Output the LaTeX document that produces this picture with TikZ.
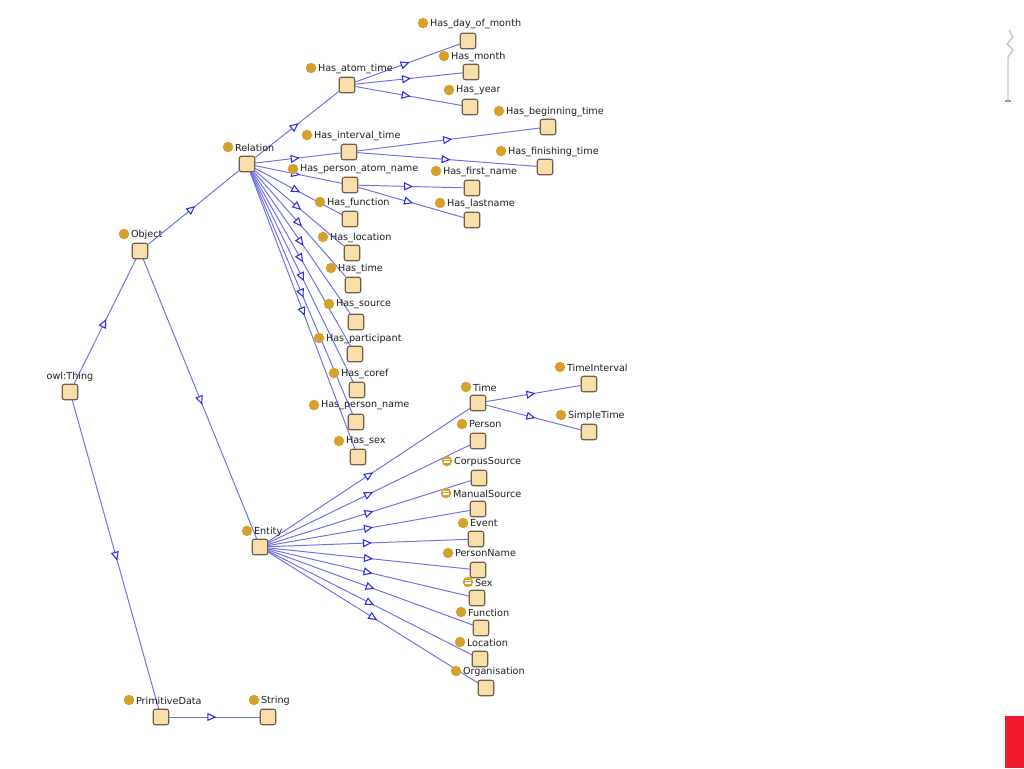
\documentclass[tikz,border=0pt]{standalone}
\usepackage{fontspec}
\setmainfont{DejaVu Sans}
\usetikzlibrary{arrows.meta,decorations.markings}
\definecolor{edgeblue}{HTML}{6E6EEA}
\definecolor{arrowblue}{HTML}{2A2AE8}
\definecolor{boxfill}{HTML}{F7DEAA}
\definecolor{boxdraw}{HTML}{6E5E46}
\definecolor{dotfill}{HTML}{D6A02C}
\definecolor{txt}{HTML}{1E1E1E}
\pgfdeclarelayer{bg}
\pgfsetlayers{bg,main}
\tikzset{
  clsbox/.style={draw=boxdraw, fill=boxfill, line width=0.6pt, rounded corners=1.2pt,
    minimum width=0.31cm, minimum height=0.31cm, inner sep=0pt},
  clsdot/.style={circle, fill=dotfill, minimum size=0.21cm, inner sep=0pt},
  eqdot/.style={circle, fill=dotfill, minimum size=0.21cm, inner sep=0pt,
    path picture={\draw[white, line width=0.5pt]
      ([xshift=-1.6pt,yshift=1pt]path picture bounding box.center) -- ++(3.2pt,0)
      ([xshift=-1.6pt,yshift=0pt]path picture bounding box.center) -- ++(3.2pt,0)
      ([xshift=-1.6pt,yshift=-1pt]path picture bounding box.center) -- ++(3.2pt,0);}},
  lbl/.style={anchor=west, inner sep=0pt, text=txt,
    font=\fontsize{5.5}{6}\selectfont},
  isa/.style={draw=edgeblue, line width=0.55pt, postaction={decorate},
    decoration={markings, mark=at position 0.52 with
      {\arrow{Triangle[length=1.8mm, width=1.6mm, color=arrowblue, fill=white, line width=0.6pt]}}}}
}
\newcommand{\ocls}[5]{%
  \node[clsbox] (#1) at (#2) {};
  \node[#5] (#1-d) at (#3) {};
  \node[lbl] (#1-t) at ([xshift=0.6pt,yshift=-0.3pt]#1-d.east) {#4};
}
\begin{document}
\begin{tikzpicture}[x=0.02cm, y=-0.02cm]
\useasboundingbox (0,0) rectangle (1024,768);
% owl:Thing
\node[clsbox] (thing) at (70,392) {};
\node[lbl, anchor=center] (thing-t) at (70,377) {owl:Thing};
\ocls{object}{140,251}{124,234}{Object}{clsdot}
\ocls{relation}{247,164}{228,147}{Relation}{clsdot}
\ocls{entity}{260,547}{247,531}{Entity}{clsdot}
\ocls{primdata}{161,717}{129,700}{PrimitiveData}{clsdot}
\ocls{string}{268,717}{254,700}{String}{clsdot}
% relations
\ocls{atomtime}{347,85}{311,68}{Has\_atom\_time}{clsdot}
\ocls{dayofmonth}{468,41}{423,23}{Has\_day\_of\_month}{clsdot}
\ocls{month}{471,72}{444,56}{Has\_month}{clsdot}
\ocls{year}{470,107}{449,90}{Has\_year}{clsdot}
\ocls{beginning}{548,127}{499,111}{Has\_beginning\_time}{clsdot}
\ocls{intervaltime}{349,152}{307,135}{Has\_interval\_time}{clsdot}
\ocls{finishing}{545,167}{501,151}{Has\_finishing\_time}{clsdot}
\ocls{personatom}{350,185}{293,169}{Has\_person\_atom\_name}{clsdot}
\ocls{firstname}{472,188}{436,171}{Has\_first\_name}{clsdot}
\ocls{lastname}{472,220}{440,203}{Has\_lastname}{clsdot}
\ocls{hfunction}{350,219}{320,202}{Has\_function}{clsdot}
\ocls{hlocation}{352,253}{323,237}{Has\_location}{clsdot}
\ocls{htime}{353,285}{331,268}{Has\_time}{clsdot}
\ocls{hsource}{356,322}{329,304}{Has\_source}{clsdot}
\ocls{hparticipant}{355,354}{319,338}{Has\_participant}{clsdot}
\ocls{hcoref}{357,390}{334,373}{Has\_coref}{clsdot}
\ocls{hpersonname}{356,422}{314,405}{Has\_person\_name}{clsdot}
\ocls{hsex}{358,457}{339,441}{Has\_sex}{clsdot}
% entities
\ocls{time}{478,403}{466,387}{Time}{clsdot}
\ocls{timeinterval}{589,384}{560,367}{TimeInterval}{clsdot}
\ocls{simpletime}{589,432}{561,415}{SimpleTime}{clsdot}
\ocls{person}{478,441}{462,424}{Person}{clsdot}
\ocls{corpus}{479,478}{447,461}{CorpusSource}{eqdot}
\ocls{manual}{478,509}{446,493}{ManualSource}{eqdot}
\ocls{event}{476,539}{463,523}{Event}{clsdot}
\ocls{personname}{478,570}{448,553}{PersonName}{clsdot}
\ocls{sex}{477,598}{468,582}{Sex}{eqdot}
\ocls{function}{481,628}{461,612}{Function}{clsdot}
\ocls{location}{480,659}{460,642}{Location}{clsdot}
\ocls{organisation}{486,688}{456,671}{Organisation}{clsdot}
% edges
\begin{pgfonlayer}{bg}
\foreach \a/\b in {thing/object, thing/primdata, object/relation, object/entity,
  primdata/string,
  relation/atomtime, relation/intervaltime, relation/personatom, relation/hfunction,
  relation/hlocation, relation/htime, relation/hsource, relation/hparticipant,
  relation/hcoref, relation/hpersonname, relation/hsex,
  atomtime/dayofmonth, atomtime/month, atomtime/year,
  intervaltime/beginning, intervaltime/finishing,
  personatom/firstname, personatom/lastname,
  entity/time, entity/person, entity/corpus, entity/manual, entity/event,
  entity/personname, entity/sex, entity/function, entity/location, entity/organisation,
  time/timeinterval, time/simpletime}
  \draw[isa] (\a) -- (\b);
\end{pgfonlayer}
% window artefacts at the right edge
\draw[gray!45, line width=0.8pt] (1009,30) -- (1013,37) -- (1007,44) -- (1013,50) -- (1008,57) -- (1008,100);
\draw[gray!80, line width=0.8pt] (1005,101) -- (1011,101);
\fill[fill={rgb,255:red,238;green,28;blue,46}] (1005,716) rectangle (1024,768);
\end{tikzpicture}
\end{document}
